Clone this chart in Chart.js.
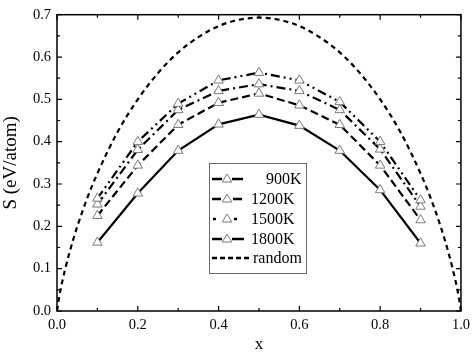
<!DOCTYPE html>
<html><head><meta charset="utf-8">
<script src="https://cdn.jsdelivr.net/npm/chart.js@4"></script>
<style>html,body{margin:0;padding:0;background:#fff}</style>
</head><body>
<canvas id="c" width="475" height="357"></canvas>
<script>
const xValues = [0.1, 0.2, 0.3, 0.4, 0.5, 0.6, 0.7, 0.8, 0.9];
const s900  = [0.266, 0.400, 0.490, 0.545, 0.563, 0.545, 0.494, 0.400, 0.262];
const s1200 = [0.252, 0.381, 0.475, 0.520, 0.536, 0.520, 0.475, 0.382, 0.247];
const s1500 = [0.225, 0.344, 0.440, 0.492, 0.514, 0.486, 0.440, 0.344, 0.215];
const s1800 = [0.162, 0.278, 0.379, 0.441, 0.464, 0.438, 0.379, 0.286, 0.160];
const randomX = [0, 0.005, 0.01, 0.02, 0.03, 0.05, 0.075, 0.1, 0.15, 0.2, 0.25, 0.3, 0.35, 0.4, 0.45, 0.5,
                 0.55, 0.6, 0.65, 0.7, 0.75, 0.8, 0.85, 0.9, 0.925, 0.95, 0.97, 0.98, 0.99, 0.995, 1];
const randomY = [0, 0.031, 0.056, 0.098, 0.135, 0.199, 0.267, 0.325, 0.423, 0.500, 0.562, 0.611, 0.647, 0.673, 0.688, 0.693,
                 0.688, 0.673, 0.647, 0.611, 0.562, 0.500, 0.423, 0.325, 0.267, 0.199, 0.135, 0.098, 0.056, 0.031, 0];
const seriesLabels = ['900K', '1200K', '1500K', '1800K', 'random'];

const FONT = "'Liberation Serif', 'Times New Roman', serif";
const toPts = (xs, ys) => xs.map((x, i) => ({x: x, y: ys[i]}));

function markerSeries(label, ys, dash) {
  return {
    label: label, data: toPts(xValues, ys),
    borderColor: '#000', borderWidth: 2.2, borderDash: dash,
    pointStyle: 'triangle', pointRadius: 5.5, pointBorderWidth: 1,
    pointBorderColor: '#7a7a7a', pointBackgroundColor: '#fff',
    tension: 0, fill: false
  };
}
const dashes = [[9,4,2,4,2,4], [9,4,2,4], [8,4], [], [5,4]];

const datasets = [
  markerSeries(seriesLabels[0], s900, dashes[0]),
  markerSeries(seriesLabels[1], s1200, dashes[1]),
  markerSeries(seriesLabels[2], s1500, dashes[2]),
  markerSeries(seriesLabels[3], s1800, dashes[3]),
  { label: seriesLabels[4], data: toPts(randomX, randomY), borderColor: '#000', borderWidth: 2.2,
    borderDash: dashes[4], pointRadius: 0, cubicInterpolationMode: 'monotone', fill: false }
];

// legend sample segments (as drawn in the reference legend)
const legendSegs = [
  [[212, 222], [232, 243]],
  [[212, 221], [233, 242]],
  [[213, 216], [234, 237]],
  [[212, 222], [232, 244]],
  [[212, 217], [220, 225], [228, 233], [236, 241], [244, 249]]
];

const frame = {
  id: 'frame',
  afterDatasetsDraw(chart) {
    const ctx = chart.ctx, a = chart.chartArea, xs = chart.scales.x, ys = chart.scales.y;
    ctx.save();
    ctx.strokeStyle = '#000'; ctx.lineWidth = 1.5;
    ctx.strokeRect(a.left, a.top, a.right - a.left, a.bottom - a.top);
    ctx.lineWidth = 1.2;
    ctx.beginPath();
    for (let i = 0; i <= 10; i++) {
      const v = i / 10, px = xs.getPixelForValue(v), L = (i % 2 === 0) ? 5 : 3;
      ctx.moveTo(px, a.bottom); ctx.lineTo(px, a.bottom - L);
      ctx.moveTo(px, a.top); ctx.lineTo(px, a.top + L);
    }
    for (let i = 0; i <= 14; i++) {
      const v = i * 0.05, py = ys.getPixelForValue(v), L = (i % 2 === 0) ? 5 : 3;
      ctx.moveTo(a.left, py); ctx.lineTo(a.left + L, py);
      ctx.moveTo(a.right, py); ctx.lineTo(a.right - L, py);
    }
    ctx.stroke();

    // legend box
    const bx = 209, by = 163, bw = 97, bh = 110;
    ctx.fillStyle = '#fff'; ctx.fillRect(bx, by, bw, bh);
    ctx.strokeStyle = '#666'; ctx.lineWidth = 1;
    ctx.strokeRect(bx + 0.5, by + 0.5, bw, bh);
    const rows = [179, 199, 219, 239, 258];
    ctx.font = '16px ' + FONT; ctx.textBaseline = 'middle'; ctx.fillStyle = '#000';
    seriesLabels.forEach((lab, i) => {
      const y = rows[i];
      ctx.save();
      ctx.strokeStyle = '#000'; ctx.lineWidth = 2.4;
      ctx.beginPath();
      legendSegs[i].forEach(sg => { ctx.moveTo(sg[0], y); ctx.lineTo(sg[1], y); });
      ctx.stroke();
      ctx.restore();
      if (i < 4) {
        const cx = 227, r = 5;
        ctx.save();
        ctx.fillStyle = '#fff'; ctx.strokeStyle = '#7a7a7a'; ctx.lineWidth = 1;
        ctx.beginPath();
        ctx.moveTo(cx, y - r); ctx.lineTo(cx + r * 0.95, y + r * 0.6); ctx.lineTo(cx - r * 0.95, y + r * 0.6);
        ctx.closePath(); ctx.fill(); ctx.stroke();
        ctx.restore();
      }
      ctx.textAlign = 'left';
      ctx.fillText(lab, i === 0 ? 266 : (i === 4 ? 253 : 251), y + 1);
    });
    ctx.restore();
  }
};

new Chart(document.getElementById('c'), {
  type: 'line',
  data: { datasets: datasets },
  plugins: [frame],
  options: {
    responsive: false, animation: false,
    layout: { padding: { top: 12, right: 12, left: 0, bottom: 0 } },
    plugins: { legend: { display: false }, tooltip: { enabled: false } },
    scales: {
      x: {
        type: 'linear', min: 0, max: 1,
        afterFit: s => { s.height = 46; },
        grid: { display: false, drawTicks: false },
        border: { display: false },
        ticks: { stepSize: 0.2, padding: 5, color: '#000', font: { family: FONT, size: 14.5 },
                 callback: v => Number(v).toFixed(1), maxRotation: 0 },
        title: { display: true, text: 'x', color: '#000', font: { family: FONT, size: 17 },
                 padding: { top: 0, bottom: 2 } }
      },
      y: {
        type: 'linear', min: 0, max: 0.7,
        afterFit: s => { s.width = 57; },
        grid: { display: false, drawTicks: false },
        border: { display: false },
        ticks: { stepSize: 0.1, padding: 6, color: '#000', font: { family: FONT, size: 14.5 },
                 callback: v => Number(v).toFixed(1) },
        title: { display: true, text: 'S (eV/atom)', color: '#000', font: { family: FONT, size: 19 },
                 padding: { top: 0, bottom: 0 } }
      }
    }
  }
});
</script>
</body></html>
